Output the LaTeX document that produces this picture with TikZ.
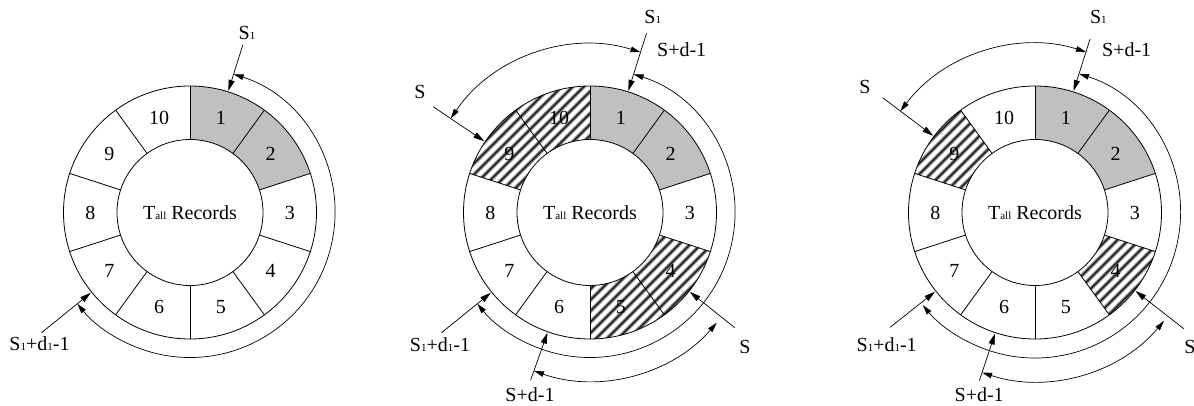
\documentclass[tikz,border=0pt]{standalone}
\usepackage{fontspec}
\setmainfont{Liberation Serif}
\usetikzlibrary{arrows.meta}
\newcommand\subsm[1]{{\fontsize{11}{11}\selectfont #1}}
\definecolor{grayfill}{RGB}{192,192,192}
\tikzset{
  lbl/.style={font=\fontsize{20}{20}\selectfont, inner sep=0pt},
  num/.style={font=\fontsize{20}{20}\selectfont, inner sep=0pt},
  ptr/.style={-{Triangle[length=11pt,width=6pt]}, line width=0.7pt},
  span/.style={{Triangle[length=10pt,width=5.5pt]}-{Triangle[length=10pt,width=5.5pt]}, line width=0.7pt},
  ringline/.style={line width=0.8pt},
}
\newcommand\segpath[1]{(90-36*#1+36:73pt) arc[start angle=90-36*#1+36, end angle=90-36*#1, radius=73pt] -- (90-36*#1:126.5pt) arc[start angle=90-36*#1, end angle=90-36*#1+36, radius=126.5pt] -- cycle}
\newcommand\grayseg[1]{\fill[grayfill] \segpath{#1};}
\newcommand\hatchseg[1]{\begin{scope}\clip \segpath{#1};
  \foreach \i in {-25,...,25}{\draw[line width=3.6pt, black!45] (\i*11-135,-135) -- ++(270,270);}
  \foreach \i in {-25,...,25}{\draw[line width=1.7pt, black!85] (\i*11-135,-135) -- ++(270,270);}
  \end{scope}}
\newcommand\ringbase[1]{%
  \draw[ringline] (0,0) circle[radius=126.5pt];
  \draw[ringline] (0,0) circle[radius=73pt];
  \foreach \k in {0,...,9}{\draw[ringline] (90-36*\k:73pt) -- (90-36*\k:126.5pt);}
  \foreach \k in {1,...,10}{\node[num] (#1\k) at (108-36*\k:99.75pt) {\k};}
  \node[lbl] (#1c) at (0,0) {T\subsm{all} Records};}
\begin{document}
\begin{tikzpicture}[x=1pt,y=1pt]
\fill[white] (0,0) rectangle (1194,405);
\useasboundingbox (0,0) rectangle (1194,405);

% ---------- left ----------
\begin{scope}[shift={(190,192.5)}]
  \grayseg{1}\grayseg{2}
  \ringbase{L}
  \coordinate (La1) at (72.5:176); \coordinate (La2) at (72.5:127.5);
  \coordinate (Lb1) at (219:191); \coordinate (Lb2) at (219:127.5);
  \draw[ptr] (La1) -- (La2);
  \draw[ptr] (Lb1) -- (Lb2);
  \coordinate (Lr1) at (72.5:145);
  \draw[span] (Lr1) arc[start angle=72.5, end angle=-141, radius=145pt];
\end{scope}
\node[lbl] (LS1) at (247,372) {S\subsm{1}};
\node[lbl] (LS2) at (39.5,61.3) {S\subsm{1}+d\subsm{1}-1};

% ---------- middle ----------
\begin{scope}[shift={(590,192.5)}]
  \grayseg{1}\grayseg{2}
  \hatchseg{4}\hatchseg{5}\hatchseg{9}\hatchseg{10}
  \ringbase{M}
  \coordinate (Ma1) at (72.5:188); \coordinate (Ma2) at (72.5:127.5);
  \coordinate (Mb1) at (219:191); \coordinate (Mb2) at (219:127.5);
  \coordinate (Mc1) at (146:189); \coordinate (Mc2) at (146:127.5);
  \coordinate (Md1) at (-38.5:185); \coordinate (Md2) at (-38.5:127.5);
  \coordinate (Me1) at (250.5:178); \coordinate (Me2) at (250.5:127.5);
  \draw[ptr] (Ma1) -- (Ma2);
  \draw[ptr] (Mb1) -- (Mb2);
  \draw[ptr] (Mc1) -- (Mc2);
  \draw[ptr] (Md1) -- (Md2);
  \draw[ptr] (Me1) -- (Me2);
  \coordinate (Mr1) at (72.5:145);
  \coordinate (Mr2) at (72.5:168);
  \coordinate (Mr3) at (-41:168);
  \draw[span] (Mr1) arc[start angle=72.5, end angle=-141, radius=145pt];
  \draw[span] (Mr2) arc[start angle=72.5, end angle=146, radius=168pt];
  \draw[span] (Mr3) arc[start angle=-41, end angle=-109.5, radius=168pt];
\end{scope}
\node[lbl] (MS1) at (652.8,387.8) {S\subsm{1}};
\node[lbl] (MSd) at (681.7,355) {S+d-1};
\node[lbl] (MS) at (420,313.3) {S};
\node[lbl] (MS2) at (440,60.8) {S\subsm{1}+d\subsm{1}-1};
\node[lbl] (MSb) at (745,58.3) {S};
\node[lbl] (MSdb) at (530,10) {S+d-1};

% ---------- right ----------
\begin{scope}[shift={(1035,192.5)}]
  \grayseg{1}\grayseg{2}
  \hatchseg{4}\hatchseg{9}
  \ringbase{R}
  \coordinate (Ra1) at (72.4:182); \coordinate (Ra2) at (72.4:127.5);
  \coordinate (Rb1) at (218.4:185); \coordinate (Rb2) at (218.4:127.5);
  \coordinate (Rc1) at (143:191); \coordinate (Rc2) at (143:127.5);
  \coordinate (Rd1) at (-38:189); \coordinate (Rd2) at (-38:127.5);
  \coordinate (Re1) at (251.7:177); \coordinate (Re2) at (251.7:127.5);
  \draw[ptr] (Ra1) -- (Ra2);
  \draw[ptr] (Rb1) -- (Rb2);
  \draw[ptr] (Rc1) -- (Rc2);
  \draw[ptr] (Rd1) -- (Rd2);
  \draw[ptr] (Re1) -- (Re2);
  \coordinate (Rr1) at (72.4:145.5);
  \coordinate (Rr2) at (72.4:168.5);
  \coordinate (Rr3) at (-40:168.5);
  \draw[span] (Rr1) arc[start angle=72.4, end angle=-140.5, radius=145.5pt];
  \draw[span] (Rr2) arc[start angle=72.4, end angle=143, radius=168.5pt];
  \draw[span] (Rr3) arc[start angle=-40, end angle=-108.3, radius=168.5pt];
\end{scope}
\node[lbl] (RS1) at (1098.3,387.8) {S\subsm{1}};
\node[lbl] (RSd) at (1126.7,355) {S+d-1};
\node[lbl] (RS) at (865,318.3) {S};
\node[lbl] (RS2) at (886.7,60.8) {S\subsm{1}+d\subsm{1}-1};
\node[lbl] (RSb) at (1190,58.3) {S};
\node[lbl] (RSdb) at (979.2,10) {S+d-1};
\end{tikzpicture}
\end{document}
